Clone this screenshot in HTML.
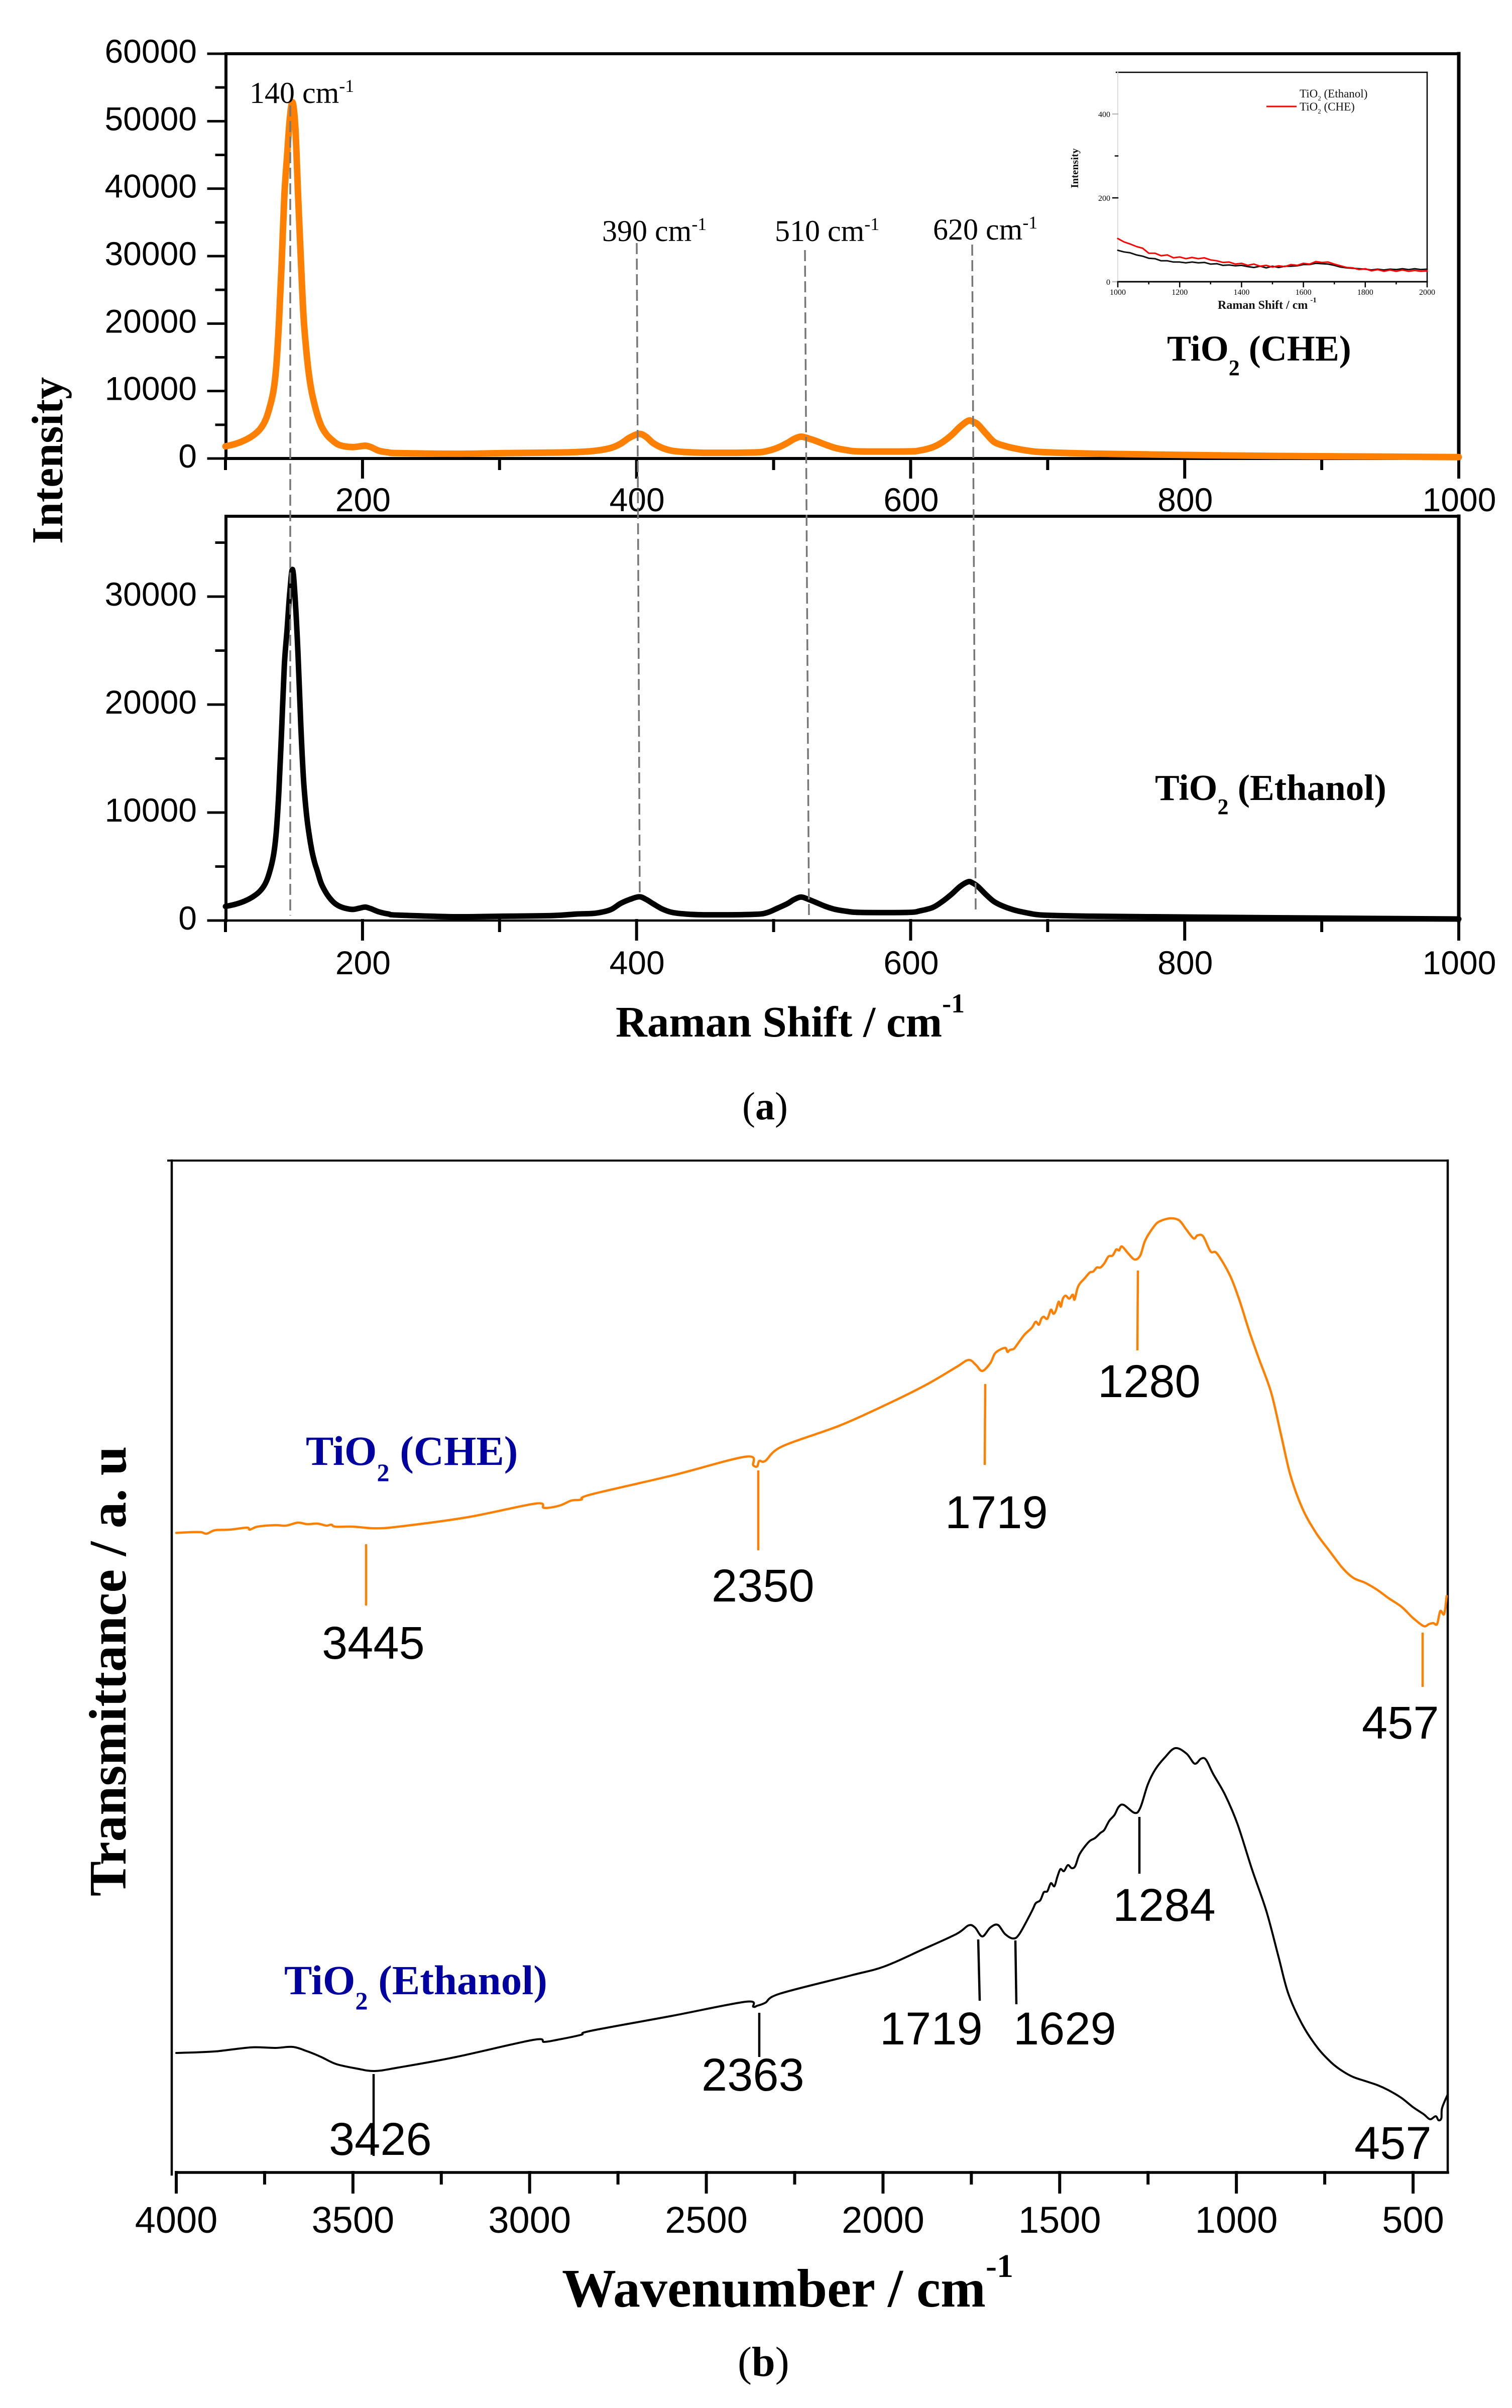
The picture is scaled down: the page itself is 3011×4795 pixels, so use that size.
<!DOCTYPE html>
<html lang="en">
<head>
<meta charset="utf-8">
<title>Raman and FTIR spectra of TiO2</title>
<style>
html,body{margin:0;padding:0;background:#fff;}
svg{display:block;position:absolute;left:0;top:0;}
.sans{font-family:"Liberation Sans",Arial,sans-serif;}
.serif{font-family:"Liberation Serif","Times New Roman",serif;}
</style>
</head>
<body>
<svg id="figure" xmlns="http://www.w3.org/2000/svg" width="3011" height="4795" viewBox="0 0 3011 4795">
  <rect x="0" y="0" width="3011" height="4795" fill="#ffffff"/>

  <g id="panelA1"></g>
  <g id="panelA2"></g>

  <g id="guides" fill="none" stroke="#777777" stroke-width="3.5" stroke-dasharray="22 9">
    <line x1="578" y1="210" x2="578" y2="1823"/>
    <line x1="1268" y1="484" x2="1274" y2="1780"/>
    <line x1="1603" y1="498" x2="1611" y2="1826"/>
    <line x1="1936" y1="487" x2="1943" y2="1819"/>
  </g>

  <g id="inset"></g>
  <g id="panelB"></g>

  <g class="serif" fill="#000" font-size="60">
    <text x="497" y="205">140 cm<tspan font-size="36" dy="-22">-1</tspan></text>
    <text x="1199" y="480">390 cm<tspan font-size="36" dy="-22">-1</tspan></text>
    <text x="1543" y="480">510 cm<tspan font-size="36" dy="-22">-1</tspan></text>
    <text x="1858" y="477">620 cm<tspan font-size="36" dy="-22">-1</tspan></text>
  </g>

  <text class="serif" font-size="88" font-weight="bold" text-anchor="middle" transform="translate(124 917) rotate(-90)">Intensity</text>
  <text class="serif" x="1226" y="2064" font-size="87" font-weight="bold">Raman Shift / cm<tspan font-size="54" dy="-48">-1</tspan></text>
  <text class="serif" x="2324" y="718" font-size="72" font-weight="bold">TiO<tspan font-size="44" dy="29">2</tspan><tspan dy="-29"> (CHE)</tspan></text>
  <text class="serif" x="2300" y="1593" font-size="73" font-weight="bold">TiO<tspan font-size="44" dy="28">2</tspan><tspan dy="-28"> (Ethanol)</tspan></text>
  <text class="serif" x="1478" y="2229" font-size="78">(<tspan font-weight="bold">a</tspan>)</text>

  <g id="leaders" fill="none" stroke-width="4.5">
    <line stroke="#ff8000" x1="729" y1="3075" x2="729" y2="3197"/>
    <line stroke="#ff8000" x1="1510" y1="2928" x2="1510" y2="3087"/>
    <line stroke="#ff8000" x1="1962" y1="2756" x2="1961" y2="2917"/>
    <line stroke="#ff8000" x1="2266" y1="2530" x2="2265" y2="2689"/>
    <line stroke="#ff8000" x1="2833" y1="3251" x2="2833" y2="3359"/>
    <line stroke="#000" x1="744" y1="4130" x2="744" y2="4293"/>
    <line stroke="#000" x1="1512" y1="4008" x2="1512" y2="4096"/>
    <line stroke="#000" x1="1948" y1="3862" x2="1951" y2="3984"/>
    <line stroke="#000" x1="2022" y1="3864" x2="2024" y2="3991"/>
    <line stroke="#000" x1="2269" y1="3618" x2="2269" y2="3731"/>
  </g>

  <g class="sans" fill="#000" font-size="92">
    <text x="641" y="3303">3445</text>
    <text x="1417" y="3189">2350</text>
    <text x="1882" y="3043">1719</text>
    <text x="2186" y="2782">1280</text>
    <text x="2712" y="3462">457</text>
    <text x="655" y="4291">3426</text>
    <text x="1397" y="4163">2363</text>
    <text x="1752" y="4071">1719</text>
    <text x="2018" y="4071">1629</text>
    <text x="2216" y="3825">1284</text>
    <text x="2697" y="4299">457</text>
  </g>

  <text class="serif" x="609" y="2917" font-size="83" font-weight="bold" fill="#0000a0">TiO<tspan font-size="50" dy="32">2</tspan><tspan dy="-32"> (CHE)</tspan></text>
  <text class="serif" x="566" y="3971" font-size="83" font-weight="bold" fill="#0000a0">TiO<tspan font-size="50" dy="30">2</tspan><tspan dy="-30"> (Ethanol)</tspan></text>
  <text class="serif" font-size="105" font-weight="bold" text-anchor="middle" transform="translate(250 3328) rotate(-90)">Transmittance / a. u</text>
  <text class="serif" x="1119" y="4593" font-size="108" font-weight="bold">Wavenumber / cm<tspan font-size="66" dy="-59">-1</tspan></text>
  <text class="serif" x="1469" y="4731" font-size="84">(<tspan font-weight="bold">b</tspan>)</text>

  <g class="serif" fill="#111">
    <text font-size="21" font-weight="bold" text-anchor="middle" transform="translate(2147 335) rotate(-90)">Intensity</text>
    <text x="2425" y="615" font-size="24" font-weight="bold">Raman Shift / cm<tspan font-size="15" dy="-13" dx="5">-1</tspan></text>
    <text x="2588" y="194" font-size="23">TiO<tspan font-size="13" dy="6">2</tspan><tspan dy="-6"> (Ethanol)</tspan></text>
    <text x="2588" y="220" font-size="23">TiO<tspan font-size="13" dy="6">2</tspan><tspan dy="-6"> (CHE)</tspan></text>
    <line x1="2522" y1="212" x2="2582" y2="212" stroke="#ff0000" stroke-width="3"/>
  </g>
</svg>

<script>
// ---- Raman (a) shared ticks ----
const ramanXMajorTicks = [200, 400, 600, 800, 1000];
const ramanXMinorTicks = [100, 300, 500, 700, 900];
const cheYMajorTicks = [0, 10000, 20000, 30000, 40000, 50000, 60000];
const cheYMinorTicks = [5000, 15000, 25000, 35000, 45000, 55000];
const ethYMajorTicks = [0, 10000, 20000, 30000];
const ethYMinorTicks = [5000, 15000, 25000, 35000];

// ---- Raman shift positions shared by both Raman traces ----
const ramanShift = [
  100,107,114,120,125,129,132,135,137,139,141,143,145,147,149,151,153,155,157,159,161,
  163,165,167,170,174,178,182,187,193,198,202,206,212,219,226,268,303,339,356,370,381,
  388,395,402,407,412,419,426,436,451,485,495,503,510,515,520,525,531,538,545,553,
  563,598,607,616,623,630,636,642,645,649,655,661,668,676,686,697,732,803,873,1000
];
// ---- Raman TiO2 (CHE) series ----
const cheIntensity = [
  1800,2150,2700,3400,4300,5600,7400,10000,13500,20000,29000,39000,45000,50500,52800,49000,39000,29500,21000,16000,12300,
  9800,8000,6500,4800,3500,2700,2100,1800,1700,1800,1900,1700,1150,900,800,700,800,880,950,1150,1550,
  2150,3100,3650,3200,2300,1550,1150,950,850,890,1100,1600,2300,2900,3240,3000,2600,2050,1570,1250,
  1050,1050,1200,1670,2400,3500,4700,5600,5500,5060,3700,2450,1900,1500,1150,940,730,520,370,210
];
// ---- Raman TiO2 (Ethanol) series ----
const ethIntensity = [
  1300,1500,1800,2200,2700,3400,4400,6000,8100,12000,17700,23700,27000,30500,32500,29500,24500,18000,13000,10000,8000,
  6500,5400,4600,3400,2450,1800,1400,1150,1030,1150,1240,1100,800,600,500,350,400,460,600,680,1000,
  1560,1950,2200,1950,1560,1050,750,600,530,570,720,1150,1560,1950,2170,1980,1670,1300,1030,860,
  750,750,900,1200,1750,2450,3150,3590,3500,3160,2400,1740,1300,960,680,500,400,320,250,140
];

// ---- Inset series ----
const insetShift = [1000,1020,1040,1060,1080,1100,1120,1140,1160,1180,1200,1220,1240,1260,1280,1300,1320,1340,1360,1380,1400,1420,1440,1460,1480,1500,1520,1540,1560,1580,1600,1620,1640,1660,1680,1700,1720,1740,1760,1780,1800,1820,1840,1860,1880,1900,1920,1940,1960,1980,2000];
const insetChe = [103,95,90,84,80,68,68,62,64,57,59,55,58,55,57,52,50,46,47,42,44,39,42,37,39,35,38,36,41,39,44,42,48,46,47,42,38,34,33,29,31,26,29,25,28,25,28,25,27,25,26];
const insetEth = [75,71,69,64,61,56,55,50,50,47,47,45,47,45,46,42,43,39,40,38,39,36,34,37,33,37,34,37,37,38,41,41,44,43,42,39,35,33,32,31,30,28,30,28,30,29,31,29,31,29,30];
const insetXMajorTicks = [1000, 1200, 1400, 1600, 1800, 2000];
const insetXMinorTicks = [1100, 1300, 1500, 1700, 1900];
const insetYLabels = [0, 200, 400];
const insetYMinorTicks = [300];

// ---- FTIR (b) series ----
const ftirCheWavenumber = [
  4000,3960,3930,3914,3890,3850,3800,3792,3770,3720,3690,3656,3630,3600,3575,3561,3550,3500,3439,3371,
  3174,2983,2959,2915,2882,2854,2827,2596,2388,2367,2356,2350,2333,2285,2120,1970,1874,1792,1758,1737,
  1719,1696,1682,1655,1648,1641,1630,1621,1600,1579,1568,1559,1552,1545,1535,1525,1518,1511,1503,1497,
  1491,1483,1473,1463,1458,1450,1443,1430,1415,1405,1395,1385,1374,1362,1350,1340,1332,1324,1306,1288,
  1272,1258,1233,1217,1187,1162,1142,1121,1110,1094,1073,1055,1018,991,963,936,902,874,847,813,
  775,737,700,669,635,601,570,532,500,470,455,443,432,423,412,405
];
const ftirCheTransmittance = [
  63.68,63.75,63.75,63.6,63.95,64.0,64.2,64.0,64.3,64.45,64.4,64.7,64.55,64.6,64.4,64.5,64.3,64.3,64.14,64.3,
  65.25,66.6,66.17,66.4,66.9,67.0,67.5,69.4,71.27,70.4,70.3,70.85,70.85,72.3,74.4,76.8,78.5,80.2,80.9,80.4,
  79.8,80.6,81.6,82.1,81.7,81.9,82.0,82.4,83.4,84.1,84.7,84.4,85.0,85.2,85.0,85.9,85.5,85.8,86.7,86.2,
  87.0,87.3,87.0,87.4,86.9,88.0,88.5,89.0,89.6,89.7,90.1,90.1,90.5,91.2,91.3,91.9,91.8,92.2,91.5,90.9,
  91.3,92.8,94.2,94.7,95.0,94.8,93.9,93.0,93.3,93.2,91.7,91.5,89.3,86.8,83.7,81.0,77.7,73.5,69.4,66.1,
  63.7,61.9,60.2,59.2,58.7,58.0,57.2,56.3,55.2,54.4,54.6,54.7,54.6,55.9,55.6,57.4
];
const ftirEthWavenumber = [
  4000,3950,3887,3830,3779,3720,3670,3629,3590,3548,3490,3439,3371,3208,2990,2959,2923,2855,2827,2596,
  2388,2367,2356,2333,2292,2093,1997,1888,1792,1758,1740,1719,1696,1675,1655,1632,1614,1579,1568,1555,
  1545,1535,1525,1515,1507,1498,1488,1477,1466,1456,1445,1430,1415,1400,1385,1374,1360,1345,1333,1319,
  1288,1272,1251,1230,1203,1173,1141,1118,1100,1086,1066,1032,997,956,915,881,853,813,770,730,
  700,669,635,601,570,532,500,470,452,436,428,420,418,403
];
const ftirEthTransmittance = [
  11.9,11.95,12.06,12.3,12.47,12.4,12.5,12.06,11.5,10.8,10.35,10.1,10.45,11.5,13.2,13.0,13.2,13.7,14.1,15.6,
  17.0,16.5,16.6,16.9,17.8,19.6,20.5,22.2,23.75,24.6,24.4,23.5,24.4,24.65,23.75,23.3,23.75,26.0,26.8,27.1,
  27.9,28.0,28.8,28.5,29.4,30.2,30.0,30.6,30.3,30.5,31.6,32.4,33.0,33.3,33.8,34.1,35.0,35.6,36.4,36.6,
  35.8,36.3,38.6,40.1,41.3,42.25,41.7,40.7,41.2,41.1,39.7,37.6,34.7,30.2,26.0,21.5,17.8,14.7,12.4,10.9,
  10.1,9.5,9.1,8.7,8.2,7.4,6.5,5.8,5.3,5.6,5.2,5.4,6.4,7.7
];
const ftirXMajorTicks = [4000,3500,3000,2500,2000,1500,1000,500];
const ftirXMinorTicks = [3750,3250,2750,2250,1750,1250,750];

// ---- helpers ----
const SVGNS = 'http://www.w3.org/2000/svg';
function linear(d0, d1, r0, r1) { return v => r0 + (v - d0) * (r1 - r0) / (d1 - d0); }
function segment(x1, y1, x2, y2, width, color) {
  const el = document.createElementNS(SVGNS, 'line');
  el.setAttribute('x1', x1); el.setAttribute('y1', y1);
  el.setAttribute('x2', x2); el.setAttribute('y2', y2);
  el.setAttribute('stroke', color || '#000');
  el.setAttribute('stroke-width', width);
  el.setAttribute('stroke-linecap', 'square');
  return el;
}
function label(x, y, str, size, anchor, cls) {
  const el = document.createElementNS(SVGNS, 'text');
  el.setAttribute('x', x); el.setAttribute('y', y);
  el.setAttribute('font-size', size);
  el.setAttribute('text-anchor', anchor);
  el.setAttribute('class', cls || 'sans');
  el.textContent = str;
  return el;
}
function seriesPath(xs, ys, sx, sy, width, color, smooth) {
  const pts = xs.map((x, i) => [sx(x), sy(ys[i])]);
  let d = 'M' + pts[0][0].toFixed(1) + ' ' + pts[0][1].toFixed(1);
  for (let i = 1; i < pts.length; i++) {
    if (smooth) {
      const p0 = pts[Math.max(i - 2, 0)], p1 = pts[i - 1], p2 = pts[i], p3 = pts[Math.min(i + 1, pts.length - 1)];
      const c1x = p1[0] + (p2[0] - p0[0]) / 6, c1y = p1[1] + (p2[1] - p0[1]) / 6;
      const c2x = p2[0] - (p3[0] - p1[0]) / 6, c2y = p2[1] - (p3[1] - p1[1]) / 6;
      d += 'C' + c1x.toFixed(1) + ' ' + c1y.toFixed(1) + ' ' + c2x.toFixed(1) + ' ' + c2y.toFixed(1) + ' ' + p2[0].toFixed(1) + ' ' + p2[1].toFixed(1);
    } else {
      d += 'L' + pts[i][0].toFixed(1) + ' ' + pts[i][1].toFixed(1);
    }
  }
  const el = document.createElementNS(SVGNS, 'path');
  el.setAttribute('d', d);
  el.setAttribute('fill', 'none');
  el.setAttribute('stroke', color);
  el.setAttribute('stroke-width', width);
  el.setAttribute('stroke-linejoin', 'round');
  el.setAttribute('stroke-linecap', 'round');
  return el;
}

// ---- Raman panels ----
function drawRamanPanel(root, top, y0, perTen, yMajor, yMinor, xs, ys, color, width, tickMajorBottom, tickMinorBottom, xLabelY, bottomWidth) {
  const left = 450, right = 2905;
  const sx = linear(100, 1000, 449, 2905);
  const sy = linear(0, 10000, y0, y0 - perTen);

  const topSpine = segment(left, top, right, top, 6);
  
  
  root.appendChild(topSpine);
  const leftSpine = segment(left, top, left, y0, 6);
  
  
  root.appendChild(leftSpine);
  const rightSpine = segment(right, top, right, y0, 7);
  
  
  root.appendChild(rightSpine);

  yMajor.forEach(v => {
    const tick = segment(415, sy(v), left, sy(v), 5);
    
    
    root.appendChild(tick);
    const txt = label(392, sy(v) + 18, String(v), 66, 'end');
    
    
    root.appendChild(txt);
  });
  yMinor.forEach(v => {
    const tick = segment(431, sy(v), left, sy(v), 5);
    
    
    root.appendChild(tick);
  });
  ramanXMajorTicks.forEach(v => {
    const tick = segment(sx(v), y0, sx(v), tickMajorBottom, 6);
    
    
    root.appendChild(tick);
    const txt = label(sx(v) + 1, xLabelY, String(v), 66, 'middle');
    
    
    root.appendChild(txt);
  });
  ramanXMinorTicks.forEach(v => {
    const tick = segment(sx(v), y0, sx(v), tickMinorBottom, 6);
    
    
    root.appendChild(tick);
  });
  const bottomAxis = segment(left, y0, right, y0, bottomWidth);
  
  
  root.appendChild(bottomAxis);
  const line = seriesPath(xs, ys, sx, sy, width, color, true);
  
  
  root.appendChild(line);
}
drawRamanPanel(document.getElementById('panelA1'), 107, 913, 134.33, cheYMajorTicks, cheYMinorTicks, ramanShift, cheIntensity, '#ff8000', 13, 950, 933, 1018, 6);
drawRamanPanel(document.getElementById('panelA2'), 1028, 1833, 215, ethYMajorTicks, ethYMinorTicks, ramanShift, ethIntensity, '#000000', 11, 1870, 1853, 1940, 4.5);

// ---- Inset ----
(function () {
  const root = document.getElementById('inset');
  const left = 2226, right = 2842, top = 144, bottom = 561;
  const sx = linear(1000, 2000, left, right);
  const sy = linear(0, 100, bottom, bottom - 83.5);

  const frameTop = segment(2223, top, right, top, 2.5);
  
  
  root.appendChild(frameTop);
  const frameRight = segment(right, top, right, bottom, 2.5);
  
  
  root.appendChild(frameRight);
  const frameLeft = segment(left, top, left, bottom, 2, '#dddddd');
  
  
  root.appendChild(frameLeft);
  const frameBottom = segment(left, bottom, right, bottom, 3);
  
  
  root.appendChild(frameBottom);

  insetYLabels.forEach(v => {
    const tick = segment(left - 10, sy(v), left, sy(v), 2.5, v === 200 ? '#000' : '#bbbbbb');
    
    
    root.appendChild(tick);
    const txt = label(2211, sy(v) + 6, String(v), 16, 'end', 'serif');
    
    
    root.appendChild(txt);
  });
  insetYMinorTicks.forEach(v => {
    const tick = segment(left - 5, sy(v), left, sy(v), 2.5);
    
    
    root.appendChild(tick);
  });
  insetXMajorTicks.forEach(v => {
    const tick = segment(sx(v), bottom, sx(v), bottom + 10, 2.5);
    
    
    root.appendChild(tick);
    const txt = label(sx(v), 587, String(v), 16, 'middle', 'serif');
    
    
    root.appendChild(txt);
  });
  insetXMinorTicks.forEach(v => {
    const tick = segment(sx(v), bottom, sx(v), bottom + 4, 2.5);
    
    
    root.appendChild(tick);
  });
  const black = seriesPath(insetShift, insetEth, sx, sy, 3, '#111111', false);
  
  
  root.appendChild(black);
  const red = seriesPath(insetShift, insetChe, sx, sy, 3, '#ff0000', false);
  
  
  root.appendChild(red);
})();

// ---- FTIR panel ----
(function () {
  const root = document.getElementById('panelB');
  const leftSpineX = 342, top = 2311, right = 2883, bottom = 4326;
  const sx = linear(4000, 500, 351, 2814);
  const sy = linear(0, 100, bottom, bottom - 2000);

  const topSpine = segment(335, top, right, top, 4);
  
  
  root.appendChild(topSpine);
  const leftSpine = segment(leftSpineX, top, leftSpineX, 4330, 4.5);
  
  
  root.appendChild(leftSpine);
  const rightSpine = segment(right, top, right, bottom, 4.5);
  
  
  root.appendChild(rightSpine);
  const bottomAxis = segment(351, bottom, right, bottom, 5.5);
  
  
  root.appendChild(bottomAxis);

  ftirXMajorTicks.forEach(v => {
    const tick = segment(sx(v), bottom, sx(v), 4365, 6);
    
    
    root.appendChild(tick);
    const txt = label(sx(v), 4446, String(v), 74, 'middle');
    
    
    root.appendChild(txt);
  });
  ftirXMinorTicks.forEach(v => {
    const tick = segment(sx(v), bottom, sx(v), 4347, 6);
    
    
    root.appendChild(tick);
  });
  const che = seriesPath(ftirCheWavenumber, ftirCheTransmittance, sx, sy, 4.5, '#ff8000', true);
  
  
  root.appendChild(che);
  const eth = seriesPath(ftirEthWavenumber, ftirEthTransmittance, sx, sy, 4, '#000000', true);
  
  
  root.appendChild(eth);
})();
</script>
</body>
</html>
